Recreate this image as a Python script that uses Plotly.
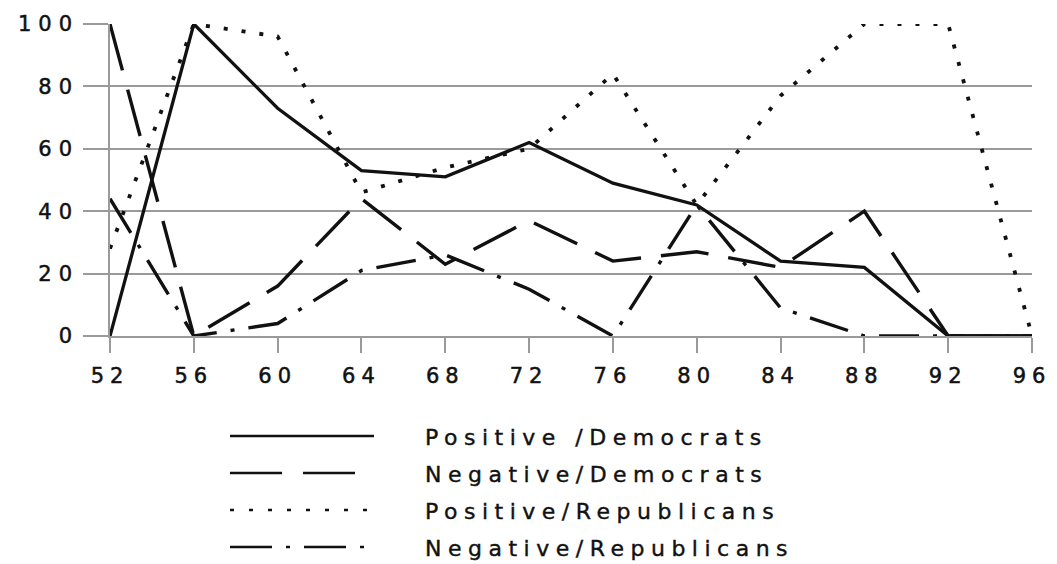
import plotly.graph_objects as go

# ---- data ----
years = [52, 56, 60, 64, 68, 72, 76, 80, 84, 88, 92, 96]
year_labels = ["52", "56", "60", "64", "68", "72", "76", "80", "84", "88", "92", "96"]
positive_democrats = [0, 100, 73, 53, 51, 62, 49, 42, 24, 22, 0, 0]
negative_democrats = [100, 0, 16, 44, 23, 37, 24, 27, 22, 40, 0, 0]
positive_republicans = [28, 100, 96, 46, 54, 60, 84, 42, 77, 100, 100, 0]
negative_republicans = [44, 0, 4, 21, 26, 15, 0, 42, 9, 0, 0, 0]
series_names = ["Positive /Democrats", "Negative/Democrats",
                "Positive/Republicans", "Negative/Republicans"]
y_ticks = [0, 20, 40, 60, 80, 100]

series_values = [positive_democrats, negative_democrats,
                 positive_republicans, negative_republicans]
dashes = ["solid", "48px,20px", "4px,14px", "40px,14px,4px,14px"]
widths = [3.3, 3.4, 3.8, 3.4]
legend_dashes = ["solid", "52px,21px", "4px,15px", "42px,14px,4px,14px"]

FONT = "DejaVu Sans, Verdana, sans-serif"
GRID = "#9a9a9a"

fig = go.Figure()
for name, vals, d, w in zip(series_names, series_values, dashes, widths):
    fig.add_trace(go.Scatter(
        x=years, y=vals, name=name, mode="lines",
        line=dict(color="#111111", width=w, dash=d),
        cliponaxis=False, showlegend=False, hoverinfo="skip"))

# custom legend below the plot (pixel offsets from the plot's bottom-left corner)
row_offsets = [100, 137, 174, 211]
for name, d, off in zip(series_names, legend_dashes, row_offsets):
    fig.add_shape(type="line", xref="paper", yref="paper",
                  xsizemode="pixel", ysizemode="pixel",
                  xanchor=0, yanchor=0,
                  x0=120, x1=264, y0=-off, y1=-off,
                  line=dict(color="#111111", width=2.6, dash=d))
    fig.add_annotation(xref="paper", yref="paper", x=0, y=0,
                       xanchor="left", yanchor="middle", align="left",
                       xshift=313, yshift=-off - 1, showarrow=False,
                       text=name, font=dict(family=FONT, size=22, color="#111111"))

fig.update_layout(
    width=1057, height=564,
    margin=dict(l=110, r=22, t=23, b=228),
    paper_bgcolor="white", plot_bgcolor="white",
    showlegend=False,
    font=dict(family=FONT, size=21, color="#111111"),
)
fig.update_xaxes(
    range=[52, 96], tickvals=years, ticktext=year_labels,
    showgrid=False, zeroline=False,
    showline=True, linecolor=GRID, linewidth=1.5,
    ticks="outside", ticklen=15, tickcolor=GRID, tickwidth=1.5,
    ticklabelstandoff=5,
    tickfont=dict(family=FONT, size=21, color="#111111"),
)
fig.update_yaxes(
    range=[0, 100], tickvals=y_ticks,
    showgrid=True, gridcolor=GRID, gridwidth=1.5, zeroline=False,
    showline=True, linecolor=GRID, linewidth=1.5,
    ticks="outside", ticklen=25, tickcolor=GRID, tickwidth=1.5,
    ticklabelstandoff=0,
    tickfont=dict(family=FONT, size=21, color="#111111"),
)

css = (
    "body{margin:0;}"
    ".xtick text{letter-spacing:6px;stroke:#111;stroke-width:0.5px;}"
    ".ytick text{letter-spacing:7px;stroke:#111;stroke-width:0.5px;}"
    ".annotation-text{letter-spacing:6.5px;stroke:#111;stroke-width:0.4px;}"
)
post = ("var s=document.createElement('style');s.textContent='" + css +
        "';document.head.appendChild(s);")

fig.write_html("out.html", post_script=post, config={"displayModeBar": False})
